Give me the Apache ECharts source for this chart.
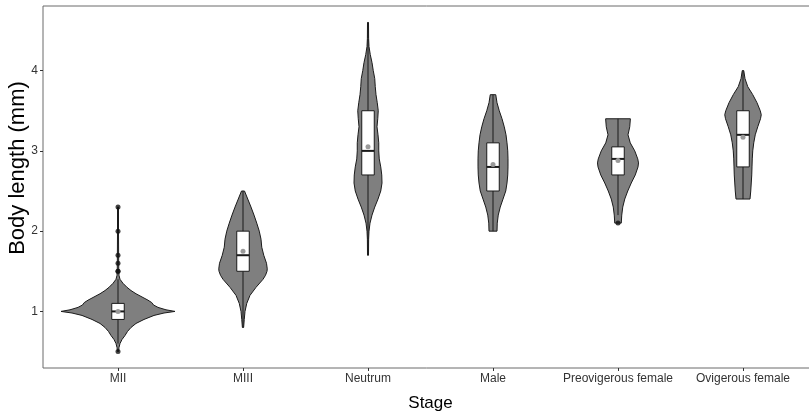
<!DOCTYPE html>
<html>
<head>
<meta charset="utf-8">
<script src="https://cdn.jsdelivr.net/npm/echarts@6/dist/echarts.min.js"></script>
<style>
  html, body { margin: 0; padding: 0; background: #ffffff; }
  #chart { width: 809px; height: 412px; }
</style>
</head>
<body>
<div id="chart"></div>
<script>
// Developmental stages shown along the x axis
const stages = ['MII', 'MIII', 'Neutrum', 'Male', 'Preovigerous female', 'Ovigerous female'];

// Violin outlines: [body length (mm), half-width as a fraction of the category spacing]
const violinMII = [
  [0.50, 0.004], [0.55, 0.008], [0.60, 0.016], [0.65, 0.032], [0.70, 0.056], [0.75, 0.076],
  [0.80, 0.104], [0.85, 0.144], [0.90, 0.208], [0.95, 0.288], [0.98, 0.368], [1.00, 0.456],
  [1.02, 0.384], [1.05, 0.320], [1.08, 0.284], [1.11, 0.270], [1.14, 0.240], [1.18, 0.192],
  [1.22, 0.144], [1.26, 0.104], [1.30, 0.072], [1.35, 0.040], [1.40, 0.016], [1.45, 0.008],
  [1.50, 0.006], [1.70, 0.005], [2.00, 0.004], [2.30, 0.004]
];
const violinMIII = [
  [0.80, 0.005], [0.90, 0.010], [1.00, 0.016], [1.10, 0.030], [1.20, 0.056], [1.30, 0.104],
  [1.40, 0.160], [1.45, 0.180], [1.50, 0.192], [1.53, 0.194], [1.60, 0.188], [1.70, 0.166],
  [1.80, 0.150], [1.90, 0.144], [2.00, 0.130], [2.10, 0.110], [2.20, 0.088], [2.30, 0.064],
  [2.40, 0.038], [2.50, 0.012]
];
const violinNeutrum = [
  [1.70, 0.004], [1.90, 0.005], [2.00, 0.008], [2.10, 0.016], [2.20, 0.032], [2.30, 0.054],
  [2.40, 0.080], [2.50, 0.102], [2.60, 0.112], [2.70, 0.110], [2.80, 0.102], [2.90, 0.090],
  [3.00, 0.086], [3.10, 0.086], [3.20, 0.080], [3.30, 0.072], [3.40, 0.078], [3.50, 0.082],
  [3.60, 0.074], [3.70, 0.064], [3.80, 0.058], [3.90, 0.054], [4.00, 0.042], [4.10, 0.032],
  [4.20, 0.018], [4.30, 0.008], [4.40, 0.005], [4.60, 0.004]
];
const violinMale = [
  [2.00, 0.032], [2.10, 0.034], [2.20, 0.042], [2.30, 0.058], [2.40, 0.080], [2.50, 0.102],
  [2.60, 0.112], [2.70, 0.118], [2.80, 0.120], [2.90, 0.120], [3.00, 0.118], [3.10, 0.112],
  [3.20, 0.104], [3.30, 0.090], [3.40, 0.072], [3.50, 0.050], [3.60, 0.032], [3.70, 0.022]
];
const violinPreovigerous = [
  [2.10, 0.026], [2.20, 0.030], [2.30, 0.038], [2.40, 0.054], [2.50, 0.078], [2.60, 0.106],
  [2.70, 0.138], [2.80, 0.160], [2.85, 0.164], [2.90, 0.158], [3.00, 0.134], [3.10, 0.098],
  [3.20, 0.080], [3.30, 0.094], [3.40, 0.099]
];
const violinOvigerous = [
  [2.40, 0.056], [2.50, 0.062], [2.60, 0.066], [2.70, 0.070], [2.80, 0.072], [2.90, 0.074],
  [3.00, 0.078], [3.10, 0.086], [3.20, 0.098], [3.30, 0.118], [3.40, 0.140], [3.45, 0.146],
  [3.50, 0.138], [3.60, 0.112], [3.70, 0.078], [3.80, 0.038], [3.90, 0.016], [4.00, 0.006]
];

// Box plot summaries: [lower whisker, Q1, median, Q3, upper whisker]
const boxMII = [0.6, 0.9, 1.0, 1.1, 1.4];
const boxMIII = [0.8, 1.5, 1.7, 2.0, 2.5];
const boxNeutrum = [1.7, 2.7, 3.0, 3.5, 4.6];
const boxMale = [2.0, 2.5, 2.8, 3.1, 3.7];
const boxPreovigerous = [2.2, 2.7, 2.9, 3.05, 3.4];
const boxOvigerous = [2.4, 2.8, 3.2, 3.5, 4.0];

// Group means
const means = [1.0, 1.75, 3.05, 2.83, 2.88, 3.17];

// Outlying observations
const outliersMII = [0.5, 1.5, 1.5, 1.6, 1.7, 2.0, 2.3];
const outliersPreovigerous = [2.1];

const yTicks = [1, 2, 3, 4];

const violins = [violinMII, violinMIII, violinNeutrum, violinMale, violinPreovigerous, violinOvigerous];
const boxes = [boxMII, boxMIII, boxNeutrum, boxMale, boxPreovigerous, boxOvigerous];

const outlierPoints = []
  .concat(outliersMII.map(v => [0, v]))
  .concat(outliersPreovigerous.map(v => [4, v]));

const BOX_WIDTH = 0.1; // in category units

function renderStage(params, api) {
  const i = api.value(0);
  const band = api.size([1, 0])[0];
  const prof = violins[i];
  const left = prof.map(([v, w]) => { const p = api.coord([i, v]); return [p[0] - w * band, p[1]]; });
  const right = prof.map(([v, w]) => { const p = api.coord([i, v]); return [p[0] + w * band, p[1]]; }).reverse();
  const b = boxes[i];
  const cx = api.coord([i, b[2]])[0];
  const half = BOX_WIDTH * band / 2;
  const yLo = api.coord([i, b[0]])[1];
  const yQ1 = api.coord([i, b[1]])[1];
  const yMed = api.coord([i, b[2]])[1];
  const yQ3 = api.coord([i, b[3]])[1];
  const yHi = api.coord([i, b[4]])[1];
  const yMean = api.coord([i, means[i]])[1];
  return {
    type: 'group',
    children: [
      {
        type: 'polygon',
        shape: { points: left.concat(right) },
        style: { fill: '#7f7f7f', stroke: '#1a1a1a', lineWidth: 1 }
      },
      {
        type: 'line',
        shape: { x1: cx, y1: yLo, x2: cx, y2: yHi },
        style: { stroke: '#1a1a1a', lineWidth: 1 }
      },
      {
        type: 'rect',
        shape: { x: cx - half, y: yQ3, width: half * 2, height: yQ1 - yQ3 },
        style: { fill: '#ffffff', stroke: '#1a1a1a', lineWidth: 1 }
      },
      {
        type: 'line',
        shape: { x1: cx - half, y1: yMed, x2: cx + half, y2: yMed },
        style: { stroke: '#1a1a1a', lineWidth: 2 }
      },
      {
        type: 'circle',
        shape: { cx: cx, cy: yMean, r: 2.5 },
        style: { fill: '#9a9a9a' }
      }
    ]
  };
}

const chart = echarts.init(document.getElementById('chart'), null, { renderer: 'canvas' });
chart.setOption({
  animation: false,
  textStyle: { fontFamily: 'Liberation Sans, Arial, sans-serif' },
  grid: {
    left: 43, top: 6, width: 775, height: 362,
    outerBoundsMode: 'none',
    containLabel: false,
    show: true, borderColor: '#6b6b6b', borderWidth: 1, backgroundColor: 'transparent'
  },
  // Y axis title, set slightly above the panel centre
  graphic: [
    {
      type: 'text',
      x: 18, y: 168,
      rotation: Math.PI / 2,
      style: {
        text: 'Body length (mm)',
        font: '22px "Liberation Sans", Arial, sans-serif',
        fill: '#000',
        align: 'center',
        verticalAlign: 'middle'
      }
    }
  ],
  xAxis: {
    type: 'value',
    min: -0.6, max: 5.6,
    name: 'Stage',
    nameLocation: 'middle',
    nameGap: 27,
    nameTextStyle: { fontSize: 17, color: '#000' },
    axisLine: { show: false, onZero: false },
    splitLine: { show: false },
    axisTick: { show: true, length: 3, lineStyle: { color: '#333' }, customValues: stages.map((s, i) => i) },
    axisLabel: {
      customValues: stages.map((s, i) => i),
      formatter: v => stages[Math.round(v)] || '',
      fontSize: 12, color: '#333', margin: 5
    }
  },
  yAxis: {
    type: 'value',
    min: 0.295, max: 4.805,
    axisLine: { show: false, onZero: false },
    splitLine: { show: false },
    axisTick: { show: true, length: 3, lineStyle: { color: '#333' }, customValues: yTicks },
    axisLabel: { customValues: yTicks, fontSize: 12, color: '#333', margin: 5 }
  },
  series: [
    {
      type: 'custom',
      renderItem: renderStage,
      data: stages.map((s, i) => [i]),
      encode: { x: 0 },
      clip: false,
      z: 2
    },
    {
      type: 'scatter',
      data: outlierPoints,
      symbol: 'circle',
      symbolSize: 5,
      itemStyle: { color: '#111' },
      z: 3
    }
  ]
});
</script>
</body>
</html>
